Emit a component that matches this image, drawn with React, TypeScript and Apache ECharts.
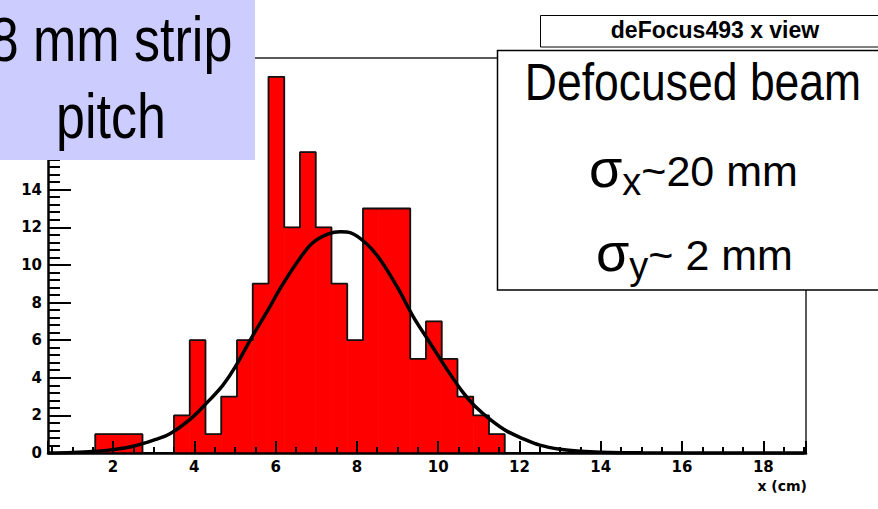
import React, { useEffect, useRef } from 'react';
import * as echarts from 'echarts';

// Histogram: 48 bins of equal width starting at x = 0.4
const binStart = 0.4;
const binWidth = 0.3875;
const binCounts = [
  0, 0, 0, 1, 1, 1, 0, 0, 2, 6, 1, 3, 6, 9, 20, 12, 16, 12, 9, 6, 13, 13, 13, 5,
  7, 5, 3, 2, 1, 0, 0, 0, 0, 0, 0, 0, 0, 0, 0, 0, 0, 0, 0, 0, 0, 0, 0, 0,
];

// Gaussian fit curve
const fitX = [0.4, 1.0, 1.5, 2.0, 2.5, 3.0, 3.4, 3.9, 4.3, 4.7, 5.0, 5.4, 5.8, 6.1, 6.5, 6.9, 7.3, 7.6, 7.85, 8.25, 8.6, 9.0, 9.4, 9.8, 10.2, 10.6, 10.9, 11.3, 11.7, 12.1, 12.5, 13.0, 13.5, 14.0, 15.0, 19.0];
const fitY = [0.0, 0.03, 0.08, 0.18, 0.36, 0.68, 1.02, 1.8, 2.65, 3.6, 4.55, 6.1, 7.55, 8.7, 10.05, 11.15, 11.65, 11.76, 11.7, 11.1, 10.2, 8.8, 7.2, 5.85, 4.5, 3.25, 2.5, 1.75, 1.15, 0.75, 0.42, 0.2, 0.09, 0.04, 0.01, 0];

const xTickLabels = ['2', '4', '6', '8', '10', '12', '14', '16', '18'];
const yTickLabels = ['0', '2', '4', '6', '8', '10', '12', '14', '16', '18', '20'];

const titleText = 'deFocus493 x view';
const xAxisTitle = 'x (cm)';
const noteLines = ['8 mm strip', 'pitch'];
const legendTitle = 'Defocused beam';

export default function App() {
  const ref = useRef<HTMLDivElement>(null);

  useEffect(() => {
    if (!ref.current) return;
    const chart = echarts.init(ref.current, undefined, { renderer: 'svg' });

    const edges = binCounts.map((_, i) => binStart + i * binWidth);
    const histRects = binCounts.map((c, i) => [edges[i], edges[i] + binWidth, c]);
    const outline: number[][] = binCounts.map((c, i) => [edges[i], c]);
    outline.push([binStart + binCounts.length * binWidth, 0]);
    const fitData = fitX.map((x, i) => [x, fitY[i]]);

    const slideFont = '"Liberation Sans", Arial, sans-serif';
    const axisFont = '"DejaVu Sans", sans-serif';

    const sigmaRich = {
      s: { fontSize: 54, fontFamily: slideFont, color: '#000', lineHeight: 52, verticalAlign: 'top' },
      sub: { fontSize: 38, fontFamily: slideFont, color: '#000', lineHeight: 30, verticalAlign: 'bottom' },
      t: { fontSize: 43, fontFamily: slideFont, color: '#000', lineHeight: 60, verticalAlign: 'middle' },
    };

    const option: any = {
      animation: false,
      backgroundColor: '#ffffff',
      grid: { left: 48, top: 58, right: 72, bottom: 56, show: false },
      xAxis: [
        {
          type: 'value',
          min: 0.4,
          max: 19.05,
          splitNumber: 9,
          axisLine: { show: true, onZero: false, lineStyle: { color: '#000', width: 2.5 } },
          axisTick: { show: true, inside: true, length: 12, lineStyle: { color: '#000', width: 2 } },
          minorTick: { show: true, splitNumber: 4, length: 6, lineStyle: { color: '#000', width: 2 } },
          splitLine: { show: false },
          minorSplitLine: { show: false },
          axisLabel: {
            show: true,
            color: '#000',
            fontFamily: axisFont,
            fontWeight: 'bold',
            fontSize: 15,
            margin: 6,
            formatter: (v: number) => (xTickLabels.includes(String(v)) ? String(v) : ''),
          },
        },
        {
          type: 'value',
          position: 'top',
          min: 0.4,
          max: 19.05,
          axisLine: { show: true, onZero: false, lineStyle: { color: '#222', width: 1.5 } },
          axisTick: { show: false },
          minorTick: { show: false },
          axisLabel: { show: false },
          splitLine: { show: false },
        },
      ],
      yAxis: [
        {
          type: 'value',
          min: 0,
          max: 21,
          interval: 2,
          axisLine: { show: true, onZero: false, lineStyle: { color: '#000', width: 2.5 } },
          axisTick: { show: true, inside: true, length: 23, lineStyle: { color: '#000', width: 2 } },
          minorTick: { show: true, splitNumber: 5, length: 12, lineStyle: { color: '#000', width: 2 } },
          splitLine: { show: false },
          minorSplitLine: { show: false },
          axisLabel: {
            show: true,
            color: '#000',
            fontFamily: axisFont,
            fontWeight: 'bold',
            fontSize: 15,
            margin: 6,
            formatter: (v: number) => (yTickLabels.includes(String(v)) ? String(v) : ''),
          },
        },
        {
          type: 'value',
          position: 'right',
          min: 0,
          max: 21,
          interval: 3,
          axisLine: { show: true, onZero: false, lineStyle: { color: '#222', width: 1.5 } },
          axisTick: { show: false },
          minorTick: { show: false },
          axisLabel: { show: false },
          splitLine: { show: false },
        },
      ],
      series: [
        {
          type: 'custom',
          z: -3,
          encode: { x: [0, 1], y: 2 },
          data: histRects,
          renderItem: (_params: any, api: any) => {
            const l = api.value(0);
            const r = api.value(1);
            const c = api.value(2);
            if (!c) return { type: 'group', children: [] };
            const p1 = api.coord([l, c]);
            const p2 = api.coord([r, 0]);
            return {
              type: 'rect',
              shape: { x: p1[0], y: p1[1], width: p2[0] - p1[0], height: p2[1] - p1[1] },
              style: { fill: '#ff0000', stroke: '#ff0000', lineWidth: 0.8 },
            };
          },
        },
        {
          type: 'line',
          z: -2,
          step: 'end',
          symbol: 'none',
          data: outline,
          lineStyle: { color: '#111', width: 1.8 },
        },
        {
          type: 'line',
          z: -1,
          smooth: 0.35,
          symbol: 'none',
          data: fitData,
          lineStyle: { color: '#000', width: 3.5 },
        },
      ],
      graphic: [
        {
          type: 'rect',
          z: 100,
          shape: { x: 0, y: 0, width: 255, height: 160 },
          style: { fill: '#ccccff' },
        },
        {
          type: 'text',
          z: 101,
          x: 111,
          y: 39,
          scaleY: 1.22,
          style: { text: noteLines[0], fill: '#000', fontSize: 52, fontFamily: slideFont, align: 'center', verticalAlign: 'middle' },
        },
        {
          type: 'text',
          z: 101,
          x: 111,
          y: 116,
          scaleY: 1.22,
          style: { text: noteLines[1], fill: '#000', fontSize: 52, fontFamily: slideFont, align: 'center', verticalAlign: 'middle' },
        },
        {
          type: 'rect',
          z: 100,
          shape: { x: 540.5, y: 15.5, width: 400, height: 31.5 },
          style: { fill: '#fff', stroke: '#000', lineWidth: 1 },
        },
        {
          type: 'text',
          z: 101,
          x: 715,
          y: 30,
          style: { text: titleText, fill: '#000', fontSize: 23, fontWeight: 'bold', fontFamily: slideFont, align: 'center', verticalAlign: 'middle' },
        },
        {
          type: 'rect',
          z: 102,
          shape: { x: 497.5, y: 50.5, width: 420, height: 239.5 },
          style: { fill: '#fff', stroke: '#000', lineWidth: 1.5 },
        },
        {
          type: 'text',
          z: 103,
          x: 693,
          y: 82,
          scaleY: 1.15,
          style: { text: legendTitle, fill: '#000', fontSize: 44.5, fontFamily: slideFont, align: 'center', verticalAlign: 'middle' },
        },
        {
          type: 'text', z: 103, x: 589, y: 171,
          style: { text: '{s|σ}{sub|x}{t|~20 mm}', rich: sigmaRich, align: 'left', verticalAlign: 'middle' },
        },
        {
          type: 'text', z: 103, x: 596, y: 255,
          style: { text: '{s|σ}{sub|y}{t|~ 2 mm}', rich: sigmaRich, align: 'left', verticalAlign: 'middle' },
        },
        {
          type: 'text', z: 103, x: 807, y: 486,
          style: { text: xAxisTitle, fill: '#000', fontSize: 14, fontWeight: 'bold', fontFamily: axisFont, align: 'right', verticalAlign: 'middle' },
        },
      ],
    };

    chart.setOption(option);
    return () => chart.dispose();
  }, []);

  return (
    <div
      ref={ref}
      style={{ position: 'fixed', left: 0, top: 0, width: 878, height: 509, background: '#fff' }}
    />
  );
}
